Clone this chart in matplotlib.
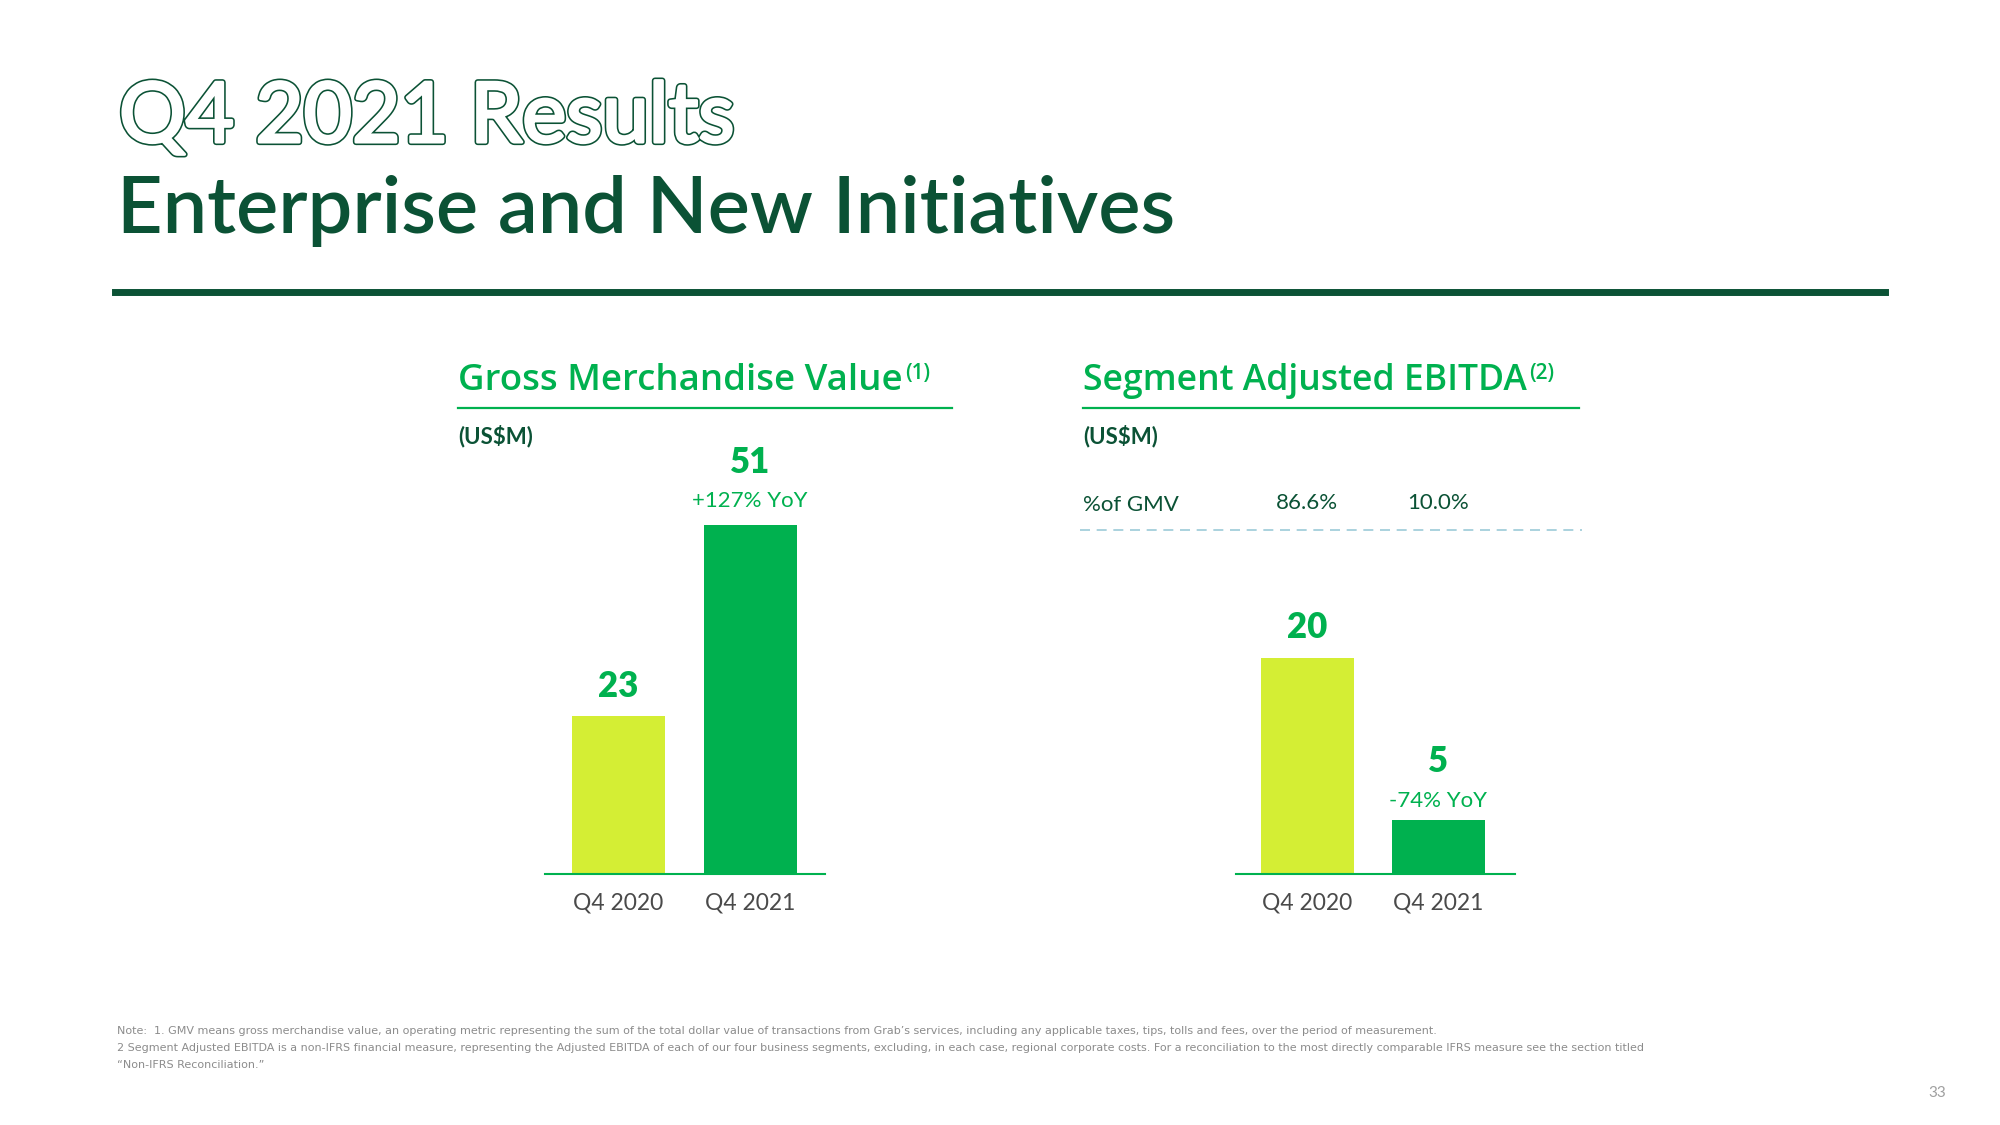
import matplotlib
matplotlib.use("Agg")
import matplotlib.pyplot as plt
import matplotlib.patheffects as pe
from matplotlib.lines import Line2D
import matplotlib.transforms as mtransforms

# data
categories = ["Q4 2020", "Q4 2021"]
gmv = [23, 51]
gmv_yoy = "+127% YoY"
ebitda = [20, 5]
ebitda_yoy = "-74% YoY"
pct_of_gmv = ["86.6%", "10.0%"]

notes = [
    "Note:  1. GMV means gross merchandise value, an operating metric representing the sum of the total dollar value of transactions from Grab\u2019s services, including any applicable taxes, tips, tolls and fees, over the period of measurement.",
    "2 Segment Adjusted EBITDA is a non-IFRS financial measure, representing the Adjusted EBITDA of each of our four business segments, excluding, in each case, regional corporate costs. For a reconciliation to the most directly comparable IFRS measure see the section titled",
    "\u201cNon-IFRS Reconciliation.\u201d",
]

DARK = "#0b5235"
GREEN = "#00b14f"
LIME = "#d4ee34"
GREY = "#4a4a4a"
FONT = ["Lato", "DejaVu Sans"]
WIDE = ["Open Sans", "DejaVu Sans"]

W, H = 2000, 1125
fig = plt.figure(figsize=(20, 11.25), dpi=100)
renderer = fig.canvas.get_renderer()


def fx(x):
    return x / W


def fy(y):
    return 1 - y / H


def ftext(x, y, s, **kw):
    kw.setdefault("family", FONT)
    return fig.text(fx(x), fy(y), s, **kw)


def fit(t, width):
    # scale the font so the text spans the given pixel width
    w = t.get_window_extent(renderer).width
    t.set_fontsize(t.get_fontsize() * width / w)
    return t


# titles
ftext(119, 142, "Q4 2021 Results", fontsize=60, color="white", weight="normal",
      va="baseline",
      path_effects=[pe.Stroke(linewidth=4.5, foreground=DARK),
                    pe.Stroke(linewidth=2.2, foreground="white"),
                    pe.Normal()])
fit(ftext(117, 233, "Enterprise and New Initiatives", fontsize=56, color=DARK,
          weight="semibold", va="baseline"), 1058)
fig.add_artist(Line2D([fx(115), fx(1885)], [fy(292), fy(292)], color=DARK, lw=5))


def header(x, y, s, sup, target, x1):
    t = ftext(x, y, s, fontsize=23, color=GREEN, weight="semibold", va="baseline",
              family=WIDE)
    fit(t, target)
    bb = t.get_window_extent(renderer)
    ftext(bb.x1 + 2, y - 11, sup, fontsize=15, color=GREEN, weight="semibold",
          va="baseline", family=WIDE)
    fig.add_artist(Line2D([fx(x), fx(x1)], [fy(408), fy(408)], color=GREEN, lw=1.6))
    ftext(x, 436, "(US$M)", fontsize=16, color=DARK, weight="bold", va="center")


header(458, 390, "Gross Merchandise Value", "(1)", 445, 952)
header(1083, 390, "Segment Adjusted EBITDA", "(2)", 445, 1579)


def bar_panel(left, right, centre0, centre1, vals, px_per_unit):
    ax = fig.add_axes([fx(left), fy(874), (right - left) / W, 400 / H])
    step = centre1 - centre0
    width = 93 / step
    ax.set_xlim(-(centre0 - left) / step, 1 + (right - centre1) / step)
    ax.set_ylim(0, 400 / px_per_unit)
    ax.bar([0, 1], vals, width=width, color=[LIME, GREEN])
    for side in ["top", "left", "right"]:
        ax.spines[side].set_visible(False)
    ax.spines["bottom"].set_color(GREEN)
    ax.spines["bottom"].set_linewidth(1.5)
    ax.set_yticks([])
    ax.set_xticks([0, 1])
    ax.set_xticklabels(categories, fontsize=16.5, color=GREY, family=FONT)
    ax.tick_params(axis="x", length=0, pad=13)
    ax.patch.set_alpha(0)
    return ax


def value_label(ax, i, v, dy, yoy=None, yoy_dy=26):
    ax.annotate(str(v), (i, v), xytext=(0, dy), textcoords="offset pixels",
                ha="center", va="center", fontsize=25, weight="heavy",
                color=GREEN, family=FONT)
    if yoy:
        ax.annotate(yoy, (i, v), xytext=(0, yoy_dy), textcoords="offset pixels",
                    ha="center", va="center", fontsize=16, weight="normal",
                    color=GREEN, family=FONT)


ax1 = bar_panel(545, 825, 618, 750, gmv, 6.85)
value_label(ax1, 0, gmv[0], 30)
value_label(ax1, 1, gmv[1], 62, gmv_yoy, 24)

ax2 = bar_panel(1236, 1515, 1307, 1438, ebitda, 10.8)
value_label(ax2, 0, ebitda[0], 30)
value_label(ax2, 1, ebitda[1], 59, ebitda_yoy, 19)

# % of GMV row
ftext(1083, 505, "%of GMV", fontsize=16, color=DARK, va="center")
trans = mtransforms.blended_transform_factory(ax2.transData, fig.transFigure)
for i, s in enumerate(pct_of_gmv):
    ax2.text(i, fy(503), s, transform=trans, ha="center", va="center",
             fontsize=16, color=DARK, family=FONT, clip_on=False)
fig.add_artist(Line2D([fx(1080), fx(1582)], [fy(530), fy(530)], color="#9ccbd8",
                      lw=1.2, linestyle=(0, (6, 4))))

# footnotes
for k, line in enumerate(notes):
    ftext(117, 1031 + 17 * k, line, fontsize=8.0, color="#8c8c8c", va="center",
          family=["Liberation Sans Narrow", "DejaVu Sans"])

ftext(1937, 1093, "33", fontsize=11, color="#a0a0a0", ha="center", va="center")

fig.savefig("out.png", dpi=100, facecolor="white")
